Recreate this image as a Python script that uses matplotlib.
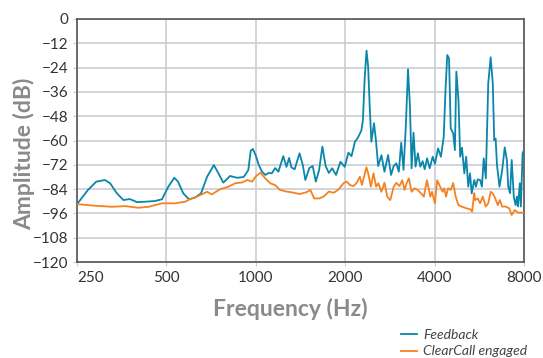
import matplotlib
matplotlib.use("Agg")
import matplotlib.pyplot as plt

plt.rcParams['font.family'] = ['Lato', 'DejaVu Sans']

# Feedback spectrum (Hz, dB)
fb_freq = [250, 252, 272, 290, 310, 323, 340, 358, 376, 398, 424, 456, 483, 507, 531, 547,
           569, 595, 624, 654, 685, 722, 748, 777, 819, 864, 910, 943, 961, 977, 998, 1023,
           1049, 1076, 1104, 1132, 1161, 1191, 1237, 1268, 1294, 1318, 1351, 1403, 1439, 1468,
           1514, 1554, 1592, 1633, 1675, 1718, 1761, 1808, 1862, 1927, 1992, 2050, 2100, 2156,
           2210, 2266, 2294, 2324, 2359, 2389, 2418, 2449, 2500, 2538, 2582, 2648, 2711, 2788,
           2853, 2912, 2972, 3030, 3087, 3143, 3199, 3254, 3304, 3346, 3396, 3450, 3513, 3580,
           3645, 3703, 3773, 3850, 3940, 4010, 4109, 4200, 4293, 4352, 4412, 4473, 4532, 4620,
           4681, 4734, 4813, 4876, 4945, 5037, 5108, 5192, 5264, 5333, 5439, 5510, 5588, 5693,
           5773, 5854, 5950, 6063, 6177, 6280, 6350, 6420, 6488, 6616, 6756, 6890, 7004, 7080,
           7180, 7272, 7392, 7496, 7575, 7637, 7744, 7807, 7915, 8000]
fb_db = [-91, -90.7, -84.4, -80.3, -79.5, -81.1, -86, -89.4, -88.9, -90.4, -90.2, -89.9, -89,
         -82.8, -78.4, -80.3, -86, -89, -88.2, -86, -77.9, -72.1, -76.2, -80.8, -77.5, -78.4, -78,
         -74.6, -65, -64.2, -67.2, -72.1, -75.4, -77, -76, -76.2, -73.6, -75.4, -67.7, -73, -68.6,
         -73.3, -74.2, -66.3, -72.1, -79.5, -73.6, -72.6, -80.3, -74.6, -63, -72.6, -76, -73.7,
         -77, -70.5, -73, -66, -67.7, -60.6, -58.4, -55.1, -49.9, -30.1, -15.6, -23.5, -43.3,
         -60.6, -51.5, -60.1, -72.6, -67.2, -75.4, -67.2, -77, -72.6, -71.3, -75.4, -61.1, -74.5,
         -53.2, -24.8, -43.3, -73.7, -56.1, -72.9, -66.3, -72.9, -70.2, -74.2, -68.8, -73.7, -68,
         -71.5, -63.9, -68, -58.1, -35.1, -17.8, -19.4, -54, -56.5, -64.7, -26, -40, -68, -63.5,
         -76.2, -68, -82.8, -76.2, -86.1, -79.5, -82.8, -79.2, -79.5, -82.8, -68.8, -78.7, -31.8,
         -18.9, -31.8, -59.8, -59, -72.1, -82.8, -74.6, -63.4, -69.6, -82.8, -86, -69.6, -87.7,
         -91.9, -87.7, -92.6, -81.1, -92.6, -66.3, -64.7]

# ClearCall engaged spectrum (Hz, dB)
cc_freq = [250, 287, 327, 363, 402, 436, 483, 535, 578, 601, 640, 685, 711, 756, 808, 853, 900,
           935, 972, 998, 1036, 1076, 1118, 1161, 1206, 1268, 1334, 1403, 1477, 1526, 1572, 1633,
           1695, 1761, 1830, 1900, 1973, 2021, 2076, 2130, 2181, 2240, 2277, 2357, 2397, 2440,
           2490, 2541, 2585, 2648, 2711, 2770, 2836, 2912, 2972, 3046, 3112, 3169, 3220, 3276,
           3346, 3420, 3506, 3601, 3680, 3768, 3870, 3920, 4010, 4080, 4175, 4258, 4310, 4370,
           4440, 4532, 4620, 4710, 4813, 4945, 5130, 5280, 5350, 5440, 5480, 5588, 5693, 5810,
           5950, 6063, 6177, 6280, 6400, 6530, 6630, 6756, 6945, 7137, 7272, 7440, 7637, 8000]
cc_db = [-91.4, -92.2, -92.7, -92.4, -93.2, -92.7, -91, -91, -90.2, -88.9, -87.4, -85.3, -86.6,
         -84.1, -82.8, -81.1, -80.7, -79.5, -80.3, -77.8, -75.9, -78.7, -81.1, -82, -84.4, -85.2,
         -85.7, -86.4, -85.6, -84.4, -88.6, -88.6, -87.6, -85.2, -85.8, -84.1, -81.1, -80.3, -82,
         -82.5, -81.1, -77.9, -81.9, -73.2, -77, -82.8, -76.2, -82.8, -81.1, -85.3, -80.8, -87.7,
         -89.4, -82.8, -80.9, -82.5, -79.6, -84.4, -81.1, -78.7, -85.3, -83.6, -84.4, -86.1, -87.7,
         -79.6, -87.7, -85.3, -91, -79.6, -82.8, -85.3, -83.6, -87.7, -83.6, -84.4, -81, -87.7,
         -91.9, -92.7, -93.5, -94, -95.1, -86, -89.4, -88.6, -91, -87.7, -92.6, -91, -85.3, -86.1,
         -88.6, -91.9, -89.4, -92.6, -92.6, -93.5, -96.8, -94.3, -95.6, -95.6]

x_ticks = [250, 500, 1000, 2000, 4000, 8000]
y_ticks = list(range(0, -121, -12))

fig = plt.figure(figsize=(5.43, 3.58), dpi=100)
ax = fig.add_axes([0.142, 0.268, 0.823, 0.679])

ax.plot(fb_freq, fb_db, color='#0a86aa', lw=1.3, label='Feedback', zorder=3)
ax.plot(cc_freq, cc_db, color='#f5821f', lw=1.3, label='ClearCall engaged', zorder=3)

ax.set_xscale('log')
ax.set_xlim(250, 8000)
ax.set_ylim(-120, 0)
ax.set_xticks(x_ticks)
ax.set_xticklabels([str(t) for t in x_ticks])
ax.minorticks_off()
ax.set_yticks(y_ticks)
ax.grid(True, color='#c9cdd2', lw=1.2)
ax.set_axisbelow(True)
ax.tick_params(axis='both', labelsize=11, colors='#333333', length=3, color='#c9cdd2')
ax.get_xticklabels()[0].set_horizontalalignment('left')
for s in ax.spines.values():
    s.set_color('#555555')
    s.set_linewidth(1.2)

ax.set_xlabel('Frequency (Hz)', fontsize=16.5, fontweight='bold', color='#8a8a8a')
ax.set_ylabel('Amplitude (dB)', fontsize=16.5, fontweight='bold', color='#8a8a8a')
ax.xaxis.set_label_coords(0.478, -0.148)
ax.yaxis.set_label_coords(-0.094, 0.444)

fig.legend(loc='upper left', bbox_to_anchor=(0.715, 0.115), frameon=False,
           prop={'style': 'italic', 'size': 10}, handlelength=1.2, handletextpad=0.4,
           labelspacing=0.3, labelcolor='#444444')

fig.savefig('out.png', dpi=100)
